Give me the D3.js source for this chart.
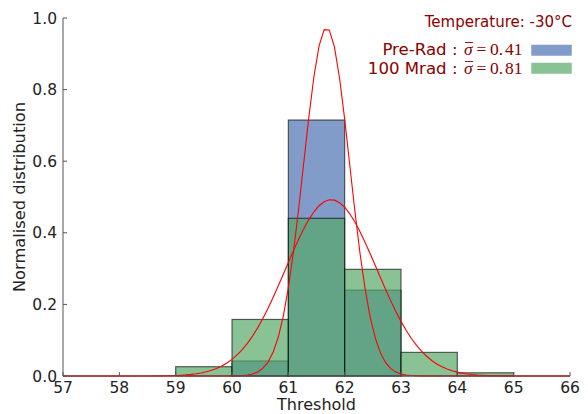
<!DOCTYPE html>
<html>
<head>
<meta charset="utf-8">
<script src="https://cdn.jsdelivr.net/npm/d3@7"></script>
<style>
  html, body { margin: 0; padding: 0; background: #fff; }
  svg { display: block; font-family: "DejaVu Sans", sans-serif; }
</style>
</head>
<body>
<svg id="chart" width="588" height="414"></svg>
<script>
// Threshold histograms (normalised) before and after irradiation
const binStarts = [59, 60, 61, 62, 63, 64];
const binWidth = 1;
const preRadValues = [0, 0.042, 0.715, 0.240, 0, 0];
const mrad100Values = [0.026, 0.158, 0.4405, 0.298, 0.066, 0.009];

// Gaussian fits: mean and sigma per series
const fitMeans = [61.68, 61.76];
const fitSigmas = [0.41, 0.81];

const seriesNames = ["Pre-Rad", "100 Mrad"];
const seriesColors = ["#4C72B0", "#55A868"];

const xTicks = [57, 58, 59, 60, 61, 62, 63, 64, 65, 66];
const yTicks = [0, 0.2, 0.4, 0.6, 0.8, 1.0];
const yTickLabels = ["0.0", "0.2", "0.4", "0.6", "0.8", "1.0"];

const title = "Temperature: -30\u00B0C";
const xLabel = "Threshold";
const yLabel = "Normalised distribution";

const svg = d3.select("#chart");
const x = d3.scaleLinear().domain([57, 66]).range([63, 570]);
const y = d3.scaleLinear().domain([0, 1]).range([376, 18]);

// Histogram bars (Pre-Rad behind, 100 Mrad in front)
[preRadValues, mrad100Values].forEach((vals, si) => {
  svg.append("g")
    .selectAll("rect")
    .data(binStarts.map((b, i) => ({ b, v: vals[i] })).filter(d => d.v > 0))
    .join("rect")
    .attr("x", d => x(d.b))
    .attr("y", d => y(d.v))
    .attr("width", d => x(d.b + binWidth) - x(d.b))
    .attr("height", d => y(0) - y(d.v))
    .attr("fill", seriesColors[si])
    .attr("fill-opacity", 0.7)
    .attr("stroke", "#000")
    .attr("stroke-opacity", 0.6)
    .attr("stroke-width", 1.2);
});

// Fitted Gaussian curves, sampled across the axis range
const samples = d3.range(100).map(i => 57 + i * 9 / 99);
const gauss = (t, m, s) => Math.exp(-0.5 * ((t - m) / s) ** 2) / (s * Math.sqrt(2 * Math.PI));
const line = d3.line().x(d => x(d[0])).y(d => y(d[1]));
fitMeans.forEach((m, i) => {
  svg.append("path")
    .attr("d", line(samples.map(t => [t, gauss(t, m, fitSigmas[i])])))
    .attr("fill", "none")
    .attr("stroke", "#ff0000")
    .attr("stroke-width", 1.1);
});

// Axes: left and bottom spines with inward ticks
const spineColor = "#555";
const axisG = svg.append("g");
axisG.append("line").attr("x1", x(57)).attr("x2", x(57)).attr("y1", y(0)).attr("y2", y(1))
  .attr("stroke", spineColor).attr("stroke-width", 1);
axisG.append("line").attr("x1", x(57)).attr("x2", x(66)).attr("y1", y(0)).attr("y2", y(0))
  .attr("stroke", spineColor).attr("stroke-width", 1);

axisG.selectAll(".yt").data(yTicks).join("line")
  .attr("x1", x(57)).attr("x2", x(57) + 4)
  .attr("y1", d => y(d)).attr("y2", d => y(d))
  .attr("stroke", spineColor);
axisG.selectAll(".xt").data(xTicks).join("line")
  .attr("x1", d => x(d)).attr("x2", d => x(d))
  .attr("y1", y(0)).attr("y2", y(0) - 4)
  .attr("stroke", spineColor);

axisG.selectAll(".yl").data(yTicks).join("text")
  .attr("x", x(57) - 6).attr("y", d => y(d)).attr("dy", "0.36em")
  .attr("text-anchor", "end").attr("font-size", 15.5).attr("fill", "#222")
  .text((d, i) => yTickLabels[i]);
axisG.selectAll(".xl").data(xTicks).join("text")
  .attr("x", d => x(d)).attr("y", 392.5)
  .attr("text-anchor", "middle").attr("font-size", 15.5).attr("fill", "#222")
  .text(d => d);

svg.append("text").attr("x", (x(57) + x(66)) / 2).attr("y", 410)
  .attr("text-anchor", "middle").attr("font-size", 16).attr("fill", "#222")
  .text(xLabel);
svg.append("text").attr("transform", `translate(24.5,${(y(0) + y(1)) / 2}) rotate(-90)`)
  .attr("text-anchor", "middle").attr("font-size", 16.3).attr("fill", "#222")
  .text(yLabel);

// Title and legend
const textRed = "#8b0000";
svg.append("text").attr("x", 572).attr("y", 27).attr("text-anchor", "end")
  .attr("font-size", 15).attr("fill", textRed).text(title);

const legendY = [55, 74];
const patchY = [44.5, 62.5];
seriesNames.forEach((name, i) => {
  svg.append("text").attr("x", 457.5).attr("y", legendY[i]).attr("text-anchor", "end")
    .attr("font-size", 16.6).attr("fill", textRed).text(name + " :");
  const mt = svg.append("text").attr("y", legendY[i])
    .attr("font-family", "'Liberation Serif', serif").attr("font-size", 17.5).attr("fill", textRed);
  mt.append("tspan").attr("x", 464).attr("font-style", "italic").text("\u03C3");
  mt.append("tspan").attr("x", 476.5).text("=");
  mt.append("tspan").attr("x", 490).text("0.");
  mt.append("tspan").attr("x", 505).text(String(fitSigmas[i]).slice(2));
  const ext = mt.node().getExtentOfChar(0);
  svg.append("line")
    .attr("x1", ext.x + 1).attr("x2", ext.x + ext.width + 0.5)
    .attr("y1", legendY[i] - 12.5).attr("y2", legendY[i] - 12.5)
    .attr("stroke", textRed).attr("stroke-width", 0.9);
  svg.append("rect").attr("x", 531).attr("y", patchY[i]).attr("width", 41).attr("height", 11.5)
    .attr("fill", seriesColors[i]).attr("fill-opacity", 0.7)
    .attr("stroke", "#fff").attr("stroke-width", 0.5);
});
</script>
</body>
</html>
